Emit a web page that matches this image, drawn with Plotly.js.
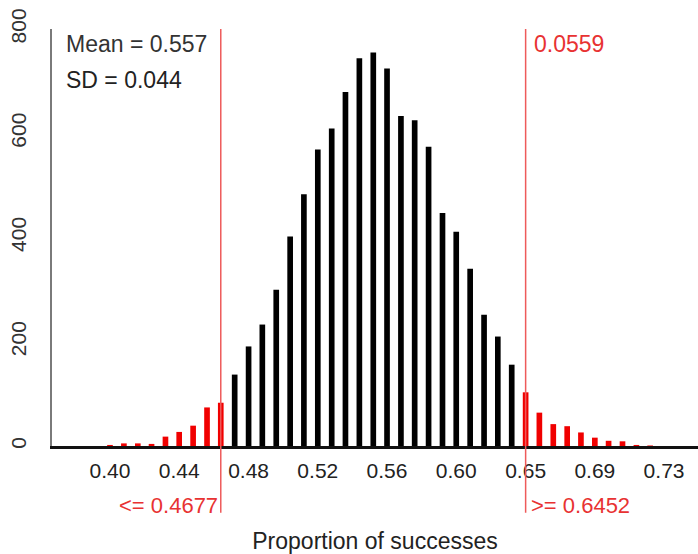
<!DOCTYPE html>
<html><head><meta charset="utf-8">
<script src="https://cdn.plot.ly/plotly-3.0.1.min.js"></script>
<style>html,body{margin:0;padding:0;background:#fff}</style>
</head><body><div id="chart" style="width:698px;height:554px"></div>
<script>
// Proportion of successes (bar positions) and counts
const proportions = [0.4032, 0.4113, 0.4194, 0.4274, 0.4355, 0.4435, 0.4516, 0.4597, 0.4677,
  0.4758, 0.4839, 0.4919, 0.5000, 0.5081, 0.5161, 0.5242, 0.5323, 0.5403, 0.5484, 0.5565,
  0.5645, 0.5726, 0.5806, 0.5887, 0.5968, 0.6048, 0.6129, 0.6210, 0.6290, 0.6371,
  0.6452, 0.6532, 0.6613, 0.6694, 0.6774, 0.6855, 0.6935, 0.7016, 0.7097, 0.7177];
const counts = [2, 5, 5, 4, 18, 27, 39, 74, 83,
  137, 191, 233, 300, 402, 483, 569, 609, 679, 744, 755,
  724, 633, 625, 574, 447, 411, 340, 252, 210, 156,
  103, 64, 42, 38, 26, 16, 10, 9, 2, 1];
const xTickValues = [0.4032, 0.4435, 0.4839, 0.5242, 0.5645, 0.6048, 0.6452, 0.6855, 0.7258];
const xTickLabels = ["0.40", "0.44", "0.48", "0.52", "0.56", "0.60", "0.65", "0.69", "0.73"];
const yTickValues = [0, 200, 400, 600, 800];
const lowerCut = 0.4677;
const upperCut = 0.6452;
const meanText = "Mean = 0.557";
const sdText = "SD = 0.044";
const tailText = "0.0559";
const lowerText = "&lt;= 0.4677";
const upperText = "&gt;= 0.6452";
const xTitle = "Proportion of successes";

const RED = "rgb(240,0,0)";
const LINE_RED = "rgb(238,90,90)";
const TEXT_RED = "rgb(232,50,50)";
const FONT = "Liberation Sans, Arial, sans-serif";

const colors = proportions.map(p => (p <= lowerCut || p >= upperCut) ? RED : "#000000");

const trace = {
  type: "bar",
  x: proportions,
  y: counts,
  width: 0.0033,
  marker: {color: colors, line: {width: 0}},
  hoverinfo: "x+y"
};

const layout = {
  width: 698, height: 554,
  margin: {l: 52, r: 0, t: 29, b: 108, pad: 0},
  paper_bgcolor: "#ffffff", plot_bgcolor: "#ffffff",
  font: {family: FONT, size: 20, color: "#222"},
  showlegend: false,
  xaxis: {
    range: [0.36944, 0.74556],
    tickmode: "array", tickvals: xTickValues, ticktext: xTickLabels,
    showline: true, linecolor: "#111", linewidth: 2.5,
    ticks: "", showgrid: false, zeroline: false,
    ticklabelstandoff: 4,
    tickfont: {family: FONT, size: 21, color: "#222"},
    title: {text: xTitle, font: {family: FONT, size: 23, color: "#222"}, standoff: 58}
  },
  yaxis: {
    range: [0, 800],
    tickmode: "array", tickvals: yTickValues,
    tickangle: -90,
    showline: true, linecolor: "#7a7a7a", linewidth: 2,
    ticks: "", showgrid: false, zeroline: false,
    ticklabelstandoff: 16,
    tickfont: {family: FONT, size: 21, color: "#333"}
  },
  shapes: [lowerCut, upperCut].map(v => ({
    type: "line", xref: "x", yref: "paper",
    x0: v, x1: v, y0: -0.16, y1: 1,
    line: {color: LINE_RED, width: 1.5}
  })),
  annotations: [
    {text: meanText, xref: "paper", yref: "paper", x: 0.019, y: 0.964, xanchor: "left", yanchor: "middle",
     showarrow: false, font: {family: FONT, size: 23, color: "#333"}},
    {text: sdText, xref: "paper", yref: "paper", x: 0.019, y: 0.878, xanchor: "left", yanchor: "middle",
     showarrow: false, font: {family: FONT, size: 23, color: "#222"}},
    {text: tailText, xref: "x", yref: "paper", x: upperCut, xshift: 6, y: 0.964, xanchor: "left", yanchor: "middle",
     showarrow: false, font: {family: FONT, size: 23, color: TEXT_RED}},
    {text: lowerText, xref: "x", yref: "paper", x: lowerCut, xshift: -1, y: -0.1415, xanchor: "right", yanchor: "middle",
     showarrow: false, font: {family: FONT, size: 22, color: TEXT_RED}},
    {text: upperText, xref: "x", yref: "paper", x: upperCut, xshift: 3, y: -0.1415, xanchor: "left", yanchor: "middle",
     showarrow: false, font: {family: FONT, size: 22, color: TEXT_RED}}
  ]
};

Plotly.newPlot("chart", [trace], layout, {staticPlot: true, displayModeBar: false});
</script>
</body></html>
